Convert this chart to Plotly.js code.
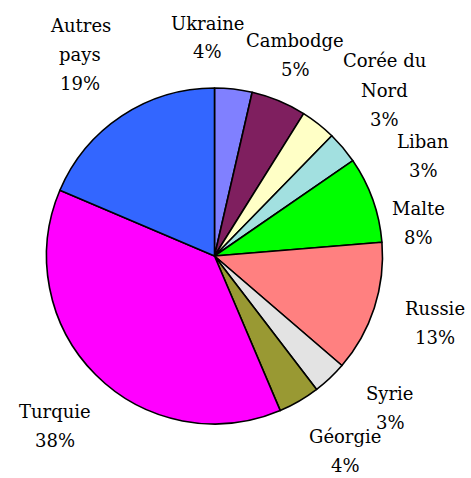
<!DOCTYPE html>
<html>
<head>
<meta charset="utf-8">
<script src="https://cdn.plot.ly/plotly-3.0.1.min.js"></script>
<style>html,body{margin:0;padding:0;background:#fff;}#chart{width:471px;height:478px;}</style>
</head>
<body>
<div id="chart"></div>
<script>
// Data
const countries = ["Ukraine", "Cambodge", "Corée du Nord", "Liban", "Malte", "Russie", "Syrie", "Géorgie", "Turquie", "Autres pays"];
const displayLabels = ["Ukraine", "Cambodge", "Corée du<br>Nord", "Liban", "Malte", "Russie", "Syrie", "Géorgie", "Turquie", "Autres<br>pays"];
const shares = [3.6, 5.3, 3.4, 3.1, 8.3, 12.6, 3.3, 4.0, 37.8, 18.6];
const percentLabels = ["4%", "5%", "3%", "3%", "8%", "13%", "3%", "4%", "38%", "19%"];

// Styles
const colors = ["#8080FF", "#7F1F5F", "#FFFFC6", "#A2E0E0", "#00FF00", "#FF8080", "#E3E3E3", "#999933", "#FF00FF", "#3366FF"];
// label first-line centres in pixels (x, y)
const labelPos = [[207, 23], [295, 40], [384, 61], [423, 142], [418, 208], [435, 308], [390, 393], [345, 436], [55, 411], [80, 25]];
const LINE_GAP = 29;

const W = 471, H = 478;
const FONT = 'DejaVu Serif';
const annotations = [];
countries.forEach((c, i) => {
  const lines = displayLabels[i].split('<br>').concat([percentLabels[i]]);
  lines.forEach((t, k) => {
    annotations.push({
      xref: 'paper', yref: 'paper',
      x: labelPos[i][0] / W, y: 1 - (labelPos[i][1] + k * LINE_GAP) / H,
      xanchor: 'center', yanchor: 'middle', align: 'center',
      showarrow: false,
      text: t,
      font: {family: FONT, size: 18, color: '#000'}
    });
  });
});

const cx = 214.5, cy = 256, r = 168;
Plotly.newPlot('chart', [{
  type: 'pie',
  labels: countries,
  values: shares,
  sort: false,
  direction: 'clockwise',
  rotation: 0,
  textinfo: 'none',
  hoverinfo: 'label+percent',
  marker: {colors: colors, line: {color: '#000', width: 1.6}},
  domain: {x: [(cx - r) / W, (cx + r) / W], y: [1 - (cy + r) / H, 1 - (cy - r) / H]}
}], {
  width: W, height: H,
  margin: {l: 0, r: 0, t: 0, b: 0},
  showlegend: false,
  paper_bgcolor: '#fff',
  font: {family: FONT},
  annotations: annotations
}, {staticPlot: true});
</script>
</body>
</html>
